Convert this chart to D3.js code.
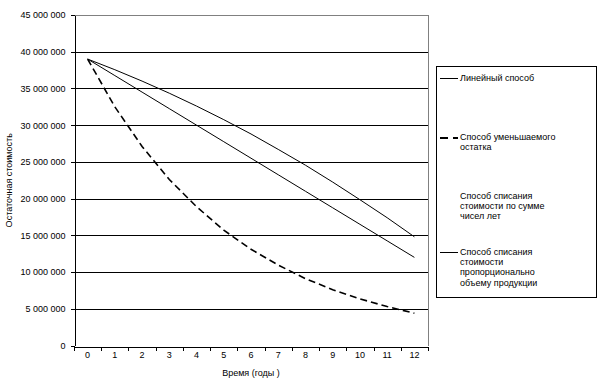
<!DOCTYPE html>
<html>
<head>
<meta charset="utf-8">
<script src="https://cdn.jsdelivr.net/npm/d3@7"></script>
<style>
  body { margin: 0; background: #fff; }
  svg { display: block; font-family: "Liberation Sans", Arial, sans-serif; }
  text { fill: #000; }
</style>
</head>
<body>
<svg width="613" height="386"></svg>
<script>
// data
const years = [0, 1, 2, 3, 4, 5, 6, 7, 8, 9, 10, 11, 12];
const linearValues = [39.0, 36.75, 34.5, 32.25, 30.0, 27.75, 25.5, 23.25, 21.0, 18.75, 16.5, 14.25, 12.0];
const decliningValues = [39.0, 32.5, 27.1, 22.6, 18.9, 15.7, 13.1, 10.95, 9.1, 7.6, 6.35, 5.3, 4.4];
const productionValues = [39.0, 37.55, 36.0, 34.35, 32.6, 30.75, 28.8, 26.7, 24.55, 22.25, 19.85, 17.4, 14.8];
const yTicks = [0, 5, 10, 15, 20, 25, 30, 35, 40, 45];

const legendItems = [
  { lines: ["Линейный способ"], dash: null, width: 1, y: 78 },
  { lines: ["Способ уменьшаемого", "остатка"], dash: "8,5", width: 2, y: 137 },
  { lines: ["Способ списания", "стоимости по сумме", "чисел лет"], dash: null, width: 0, y: 196 },
  { lines: ["Способ списания", "стоимости", "пропорционально", "объему продукции"], dash: null, width: 1, y: 252 }
];

const margin = { top: 15, right: 185, bottom: 40.5, left: 74 };
const width = 613, height = 386;

const svg = d3.select("svg");

const x = d3.scaleBand()
  .domain(years)
  .range([margin.left, width - margin.right]);

const y = d3.scaleLinear()
  .domain([0, 45])
  .range([height - margin.bottom, margin.top]);

const fmt = d => d === 0 ? "0" : d3.format(",")(d * 1000000).replace(/,/g, " ");

// grid
svg.append("g")
  .attr("shape-rendering", "crispEdges")
  .selectAll("line")
  .data(yTicks.filter(d => d > 0 && d < 45))
  .enter().append("line")
  .attr("x1", margin.left)
  .attr("x2", width - margin.right)
  .attr("y1", d => Math.round(y(d)) + 0.5)
  .attr("y2", d => Math.round(y(d)) + 0.5)
  .attr("stroke", "#000");

// plot border (top & right, gray)
svg.append("path")
  .attr("d", `M${margin.left},${margin.top + 0.5}H${width - margin.right + 0.5}V${height - margin.bottom}`)
  .attr("fill", "none")
  .attr("shape-rendering", "crispEdges")
  .attr("stroke", "#808080");

// y axis
const yAxis = svg.append("g")
  .attr("transform", `translate(${margin.left + 0.5},0)`)
  .attr("shape-rendering", "crispEdges")
  .call(d3.axisLeft(y).tickValues(yTicks).tickFormat(fmt).tickSize(4).tickSizeOuter(0).tickPadding(5))
  .call(g => g.selectAll("text").style("font-size", "9px").style("font-family", "Liberation Sans, Arial, sans-serif"));
yAxis.selectAll("line, path").attr("stroke", "#000");

// x axis
const xAxis = svg.append("g")
  .attr("transform", `translate(0,${Math.round(y(0)) + 0.5})`)
  .attr("shape-rendering", "crispEdges")
  .call(d3.axisBottom(x).tickSize(0).tickSizeOuter(0).tickPadding(5))
  .call(g => g.selectAll("text").style("font-size", "9px").style("font-family", "Liberation Sans, Arial, sans-serif"));
xAxis.select("path").attr("stroke", "#000");

xAxis.selectAll(".cat-tick")
  .data(years.concat([null]))
  .enter().append("line")
  .attr("class", "cat-tick")
  .attr("x1", d => d === null ? x.range()[1] : Math.round(x(d)) + 0.5)
  .attr("x2", d => d === null ? x.range()[1] : Math.round(x(d)) + 0.5)
  .attr("y1", 0)
  .attr("y2", 4)
  .attr("stroke", "#000");

// axis titles
svg.append("text")
  .attr("x", (margin.left + width - margin.right) / 2)
  .attr("y", 376)
  .attr("text-anchor", "middle")
  .style("font-size", "9px")
  .text("Время (годы )");

svg.append("text")
  .attr("transform", `translate(12,${(margin.top + height - margin.bottom) / 2}) rotate(-90)`)
  .attr("text-anchor", "middle")
  .style("font-size", "9px")
  .text("Остаточная стоимость");

// lines
const line = d3.line()
  .x((d, i) => x(years[i]) + x.bandwidth() / 2)
  .y(d => y(d));

svg.append("path")
  .datum(productionValues)
  .attr("d", line)
  .attr("fill", "none")
  .attr("stroke", "#000")
  .attr("stroke-width", 1);

svg.append("path")
  .datum(linearValues)
  .attr("d", line)
  .attr("fill", "none")
  .attr("stroke", "#000")
  .attr("stroke-width", 1);

svg.append("path")
  .datum(decliningValues)
  .attr("d", line)
  .attr("fill", "none")
  .attr("stroke", "#000")
  .attr("stroke-width", 1.6)
  .attr("stroke-dasharray", "7,4");

// legend
const legend = svg.append("g");
legend.append("rect")
  .attr("x", 436.5)
  .attr("y", 66.5)
  .attr("width", 160)
  .attr("height", 231)
  .attr("fill", "#fff")
  .attr("shape-rendering", "crispEdges")
  .attr("stroke", "#000");

legendItems.forEach(item => {
  if (item.width > 0) {
    legend.append("line")
      .attr("x1", 440)
      .attr("x2", 458)
      .attr("y1", item.y + 0.5)
      .attr("y2", item.y + 0.5)
      .attr("stroke", "#000")
      .attr("stroke-width", item.width)
      .attr("shape-rendering", "crispEdges")
      .attr("stroke-dasharray", item.dash);
  }
  const t = legend.append("text")
    .attr("x", 460)
    .attr("y", item.y + 3)
    .style("font-size", "9px");
  item.lines.forEach((s, i) => {
    t.append("tspan")
      .attr("x", 460)
      .attr("dy", i === 0 ? 0 : 10.2)
      .text(s);
  });
});
</script>
</body>
</html>
